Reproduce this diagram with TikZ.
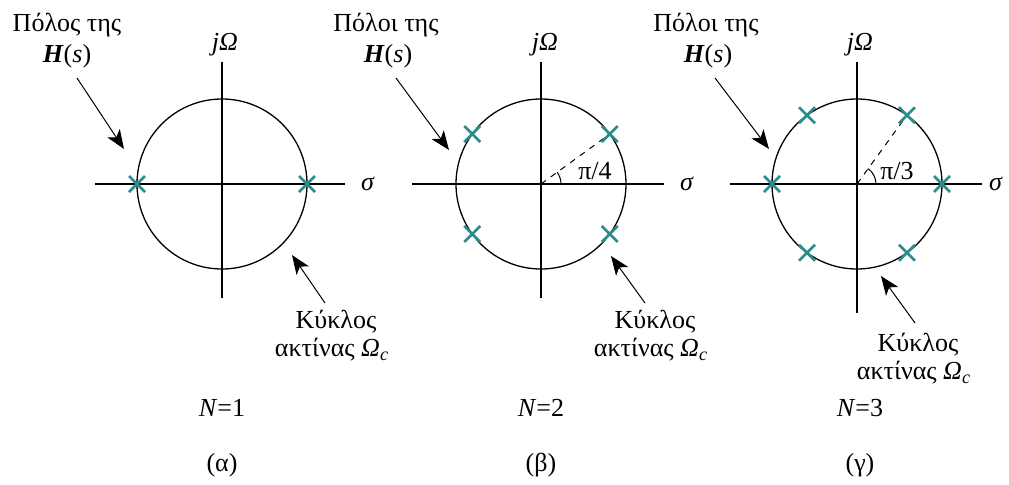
\documentclass[tikz,border=0pt]{standalone}
\usepackage{fontspec}
\setmainfont{Liberation Serif}
\usetikzlibrary{arrows.meta,calc}
\definecolor{poleteal}{HTML}{2A8C8C}
\newcommand{\Hs}{\textbf{\textit{H}}(\textit{s})}
\newcommand{\radc}{\textit{Ω}\textsubscript{\textit{c}}}

\begin{document}
\begin{tikzpicture}[x=0.5pt,y=0.5pt,
  txt/.style={inner sep=0pt,font=\fontsize{13}{15}\selectfont},
  axis/.style={line width=0.65pt},
  ring/.style={line width=0.65pt},
  pole/.style={poleteal,line width=1.35pt},
  ptr/.style={-{Stealth[length=9.5pt,width=7.5pt,inset=2.5pt]},line width=0.5pt},
  guide/.style={dashed,line width=0.5pt}]
\useasboundingbox (0,0) rectangle (1009,484);

% centres of the three s-planes
\coordinate (c1) at (222,300);
\coordinate (c2) at (541,300);
\coordinate (c3) at (857,300);

% axes and circles
\draw[axis] ($(c1)+(-127,0)$) -- ($(c1)+(123,0)$);
\draw[axis] ($(c1)+(0,-114)$) -- ($(c1)+(0,122)$);
\draw[axis] ($(c2)+(-129,0)$) -- ($(c2)+(123,0)$);
\draw[axis] ($(c2)+(0,-114)$) -- ($(c2)+(0,122)$);
\draw[axis] ($(c3)+(-127,0)$) -- ($(c3)+(125,0)$);
\draw[axis] ($(c3)+(0,-129)$) -- ($(c3)+(0,122)$);
\draw[ring] (c1) circle[radius=42.5pt];
\draw[ring] (c2) circle[radius=42.5pt];
\draw[ring] (c3) circle[radius=42.5pt];

\node[txt] (jw1) at (225,439) {\textit{j}\textit{Ω}};
\node[txt] (jw2) at (545,439) {\textit{j}\textit{Ω}};
\node[txt] (jw3) at (860,439) {\textit{j}\textit{Ω}};
\node[txt] (sg1) at (368,300) {\textit{σ}};
\node[txt] (sg2) at (687,300) {\textit{σ}};
\node[txt] (sg3) at (996,300) {\textit{σ}};

% angle guides
\draw[guide] (c2) -- ($(c2)+(36:85)$);
\draw[line width=0.5pt] ($(c2)+(20,0)$) arc[start angle=0,end angle=36,radius=10pt];
\node[txt] (ang2) at (595,313) {π/4};
\draw[guide] (c3) -- ($(c3)+(54:85)$);
\draw[line width=0.5pt] ($(c3)+(19,0)$) arc[start angle=0,end angle=54,radius=9.5pt];
\node[txt] (ang3) at (897,313) {π/3};

% poles
\foreach \a in {0,180}
  \draw[pole] ($(c1)+(\a:85)$) +(-8,-8) -- +(8,8) +(-8,8) -- +(8,-8);
\foreach \a in {36,144,216,324}
  \draw[pole] ($(c2)+(\a:85)$) +(-8,-8) -- +(8,8) +(-8,8) -- +(8,-8);
\foreach \a in {0,54,126,180,234,306}
  \draw[pole] ($(c3)+(\a:85)$) +(-8,-8) -- +(8,8) +(-8,8) -- +(8,-8);

% pole labels
\node[txt] (pl1) at (67,459) {Πόλος της};
\node[txt] (hs1) at (67,428) {\Hs};
\node[txt] (pl2) at (386,459) {Πόλοι της};
\node[txt] (hs2) at (388,428) {\Hs};
\node[txt] (pl3) at (706,459) {Πόλοι της};
\node[txt] (hs3) at (708,428) {\Hs};
\coordinate (pt1) at (77,406);  \coordinate (ph1) at (124,335);
\coordinate (pt2) at (396,406); \coordinate (ph2) at (449,334);
\coordinate (pt3) at (715,406); \coordinate (ph3) at (769,335);
\draw[ptr] (pt1) -- (ph1);
\draw[ptr] (pt2) -- (ph2);
\draw[ptr] (pt3) -- (ph3);

% circle labels
\node[txt] (ck1) at (336,162) {Κύκλος};
\node[txt] (ca1) at (332,134) {ακτίνας \radc};
\node[txt] (ck2) at (655,162) {Κύκλος};
\node[txt] (ca2) at (651,134) {ακτίνας \radc};
\node[txt] (ck3) at (918,139) {Κύκλος};
\node[txt] (ca3) at (914,111) {ακτίνας \radc};
\coordinate (kt1) at (325,181); \coordinate (kh1) at (292,229);
\coordinate (kt2) at (645,181); \coordinate (kh2) at (611,228);
\coordinate (kt3) at (915,161); \coordinate (kh3) at (881,208);
\draw[ptr] (kt1) -- (kh1);
\draw[ptr] (kt2) -- (kh2);
\draw[ptr] (kt3) -- (kh3);

% orders and captions
\node[txt] (n1) at (222,76) {\textit{N}=1};
\node[txt] (n2) at (541,76) {\textit{N}=2};
\node[txt] (n3) at (860,76) {\textit{N}=3};
\node[txt] (cap1) at (222,19) {(α)};
\node[txt] (cap2) at (541,19) {(β)};
\node[txt] (cap3) at (860,19) {(γ)};
\end{tikzpicture}
\end{document}
